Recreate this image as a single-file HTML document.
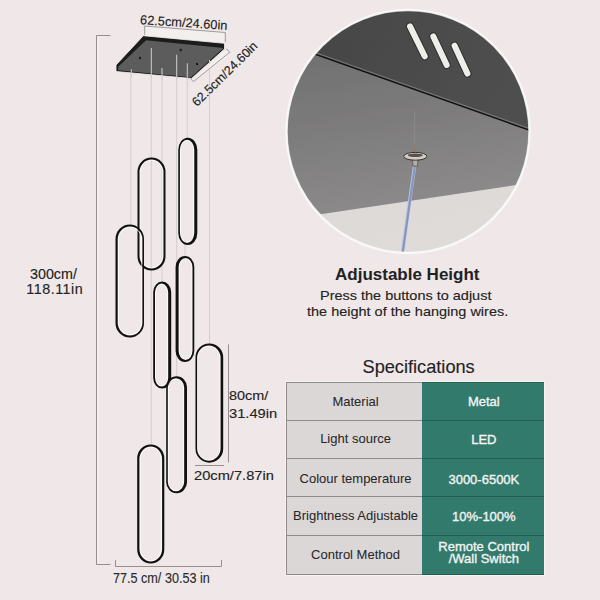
<!DOCTYPE html>
<html><head><meta charset="utf-8">
<style>
html,body{margin:0;padding:0;width:600px;height:600px;overflow:hidden;background:#efe7e8;}
body{position:relative;font-family:"Liberation Sans",sans-serif;color:#222;}
.t{position:absolute;white-space:nowrap;line-height:1;-webkit-text-stroke:0.12px currentColor;}
.cell{-webkit-text-stroke:0.25px currentColor;}
svg{position:absolute;left:0;top:0;}
.cell{position:absolute;display:flex;align-items:center;justify-content:center;text-align:center;font-size:13px;line-height:12px;}
</style></head><body>
<svg width="600" height="600" viewBox="0 0 600 600">
  <!-- left dimension line -->
  <path d="M97.8 37 V563" fill="none" stroke="#f8f5f5" stroke-width="1.2"/>
  <path d="M110.5 35.5 H96.5 V564.5 H110.5" fill="none" stroke="#978e8f" stroke-width="1"/>
  <!-- bottom dimension -->
  <path d="M115.5 560 V566.5 H221.5 V560" fill="none" stroke="#978e8f" stroke-width="1"/>
  <!-- 80cm dimension -->
  <path d="M228.5 344.5 V462.5" fill="none" stroke="#978e8f" stroke-width="1"/>
  <path d="M195 465.5 H224" fill="none" stroke="#978e8f" stroke-width="1"/>
  <!-- wires -->
  <g stroke="#d6cdce" stroke-width="1">
    <path d="M130.8 72 V225"/>
    <path d="M151.3 72 V445"/>
    <path d="M162 72 V282"/>
    <path d="M176.7 72 V377"/>
    <path d="M187.3 72 V139"/>
    <path d="M185 240 V257"/>
    <path d="M209.5 66 V344"/>
  </g>
  <!-- canopy -->
  <polygon points="145,26 225.5,32.5 225,43 143,35.5" fill="#f4efef"/>
  <polygon points="192,80.5 224.5,50 230,54.6 193.3,81.5" fill="#f4efef"/>
  <polygon points="143.3,35.7 224.5,43.3 224.5,49 191.5,78.5 116,71.5 116,65" fill="#1c1c1c" stroke="#f6f2f2" stroke-width="0.8"/>
  <polygon points="146,40.2 223.5,48 191,77.3 118,70.3 118.5,66.5" fill="#5c5c5c"/>
  <g stroke="#cfcfcf" stroke-width="1">
    <path d="M131.3 69.3 V78"/>
    <path d="M151.3 48 V79"/>
    <path d="M162 68 V80"/>
    <path d="M176.7 54.7 V80"/>
    <path d="M187.3 63.3 V80"/>
    <path d="M209.5 60 V64"/>
  </g>
  <circle cx="140" cy="58" r="1.2" fill="#1a1a1a"/>
  <circle cx="180.7" cy="50" r="1.2" fill="#1a1a1a"/>
  <circle cx="197" cy="64" r="1.2" fill="#1a1a1a"/>
  <path d="M144.7 34.8 L144.7 26 L225.3 32.5 L225.3 42" fill="none" stroke="#978e8f" stroke-width="0.9"/>
  <path d="M190.5 78.5 L193.3 81.7 L229.7 52.3 L226.5 48.8" fill="none" stroke="#978e8f" stroke-width="0.9"/>
  <!-- rings -->
  <path d="M140.10 172.10 A11.40 11.90 0 0 1 162.90 172.10 V256.00 A11.40 11.90 0 0 1 140.10 256.00 Z" fill="none" stroke="#ffffff" stroke-width="1" opacity="0.8"/>
  <path d="M137.50 171.60 A14.00 14.00 0 0 1 165.50 171.60 V256.50 A14.00 14.00 0 0 1 137.50 256.50 Z M139.50 172.00 A12.00 12.40 0 0 1 163.50 172.00 V256.10 A12.00 12.40 0 0 1 139.50 256.10 Z" fill="#111" fill-rule="evenodd"/>
  <path d="M180.50 150.20 A6.60 9.90 0 0 1 193.70 150.20 V232.50 A6.60 9.90 0 0 1 180.50 232.50 Z" fill="none" stroke="#ffffff" stroke-width="1" opacity="0.8"/>
  <path d="M178.30 149.70 A9.50 12.00 0 0 1 197.30 149.70 V233.00 A9.50 12.00 0 0 1 178.30 233.00 Z M179.90 150.10 A7.20 10.40 0 0 1 194.30 150.10 V232.60 A7.20 10.40 0 0 1 179.90 232.60 Z" fill="#111" fill-rule="evenodd"/>
  <path d="M118.30 239.40 A11.75 12.40 0 0 1 141.80 239.40 V322.50 A11.75 12.40 0 0 1 118.30 322.50 Z" fill="none" stroke="#ffffff" stroke-width="1" opacity="0.8"/>
  <path d="M115.50 238.90 A14.25 14.50 0 0 1 144.00 238.90 V323.00 A14.25 14.50 0 0 1 115.50 323.00 Z M117.70 239.30 A12.35 12.90 0 0 1 142.40 239.30 V322.60 A12.35 12.90 0 0 1 117.70 322.60 Z" fill="#111" fill-rule="evenodd"/>
  <path d="M155.60 292.60 A6.00 8.40 0 0 1 167.60 292.60 V377.50 A6.00 8.40 0 0 1 155.60 377.50 Z" fill="none" stroke="#ffffff" stroke-width="1" opacity="0.8"/>
  <path d="M153.20 292.10 A9.00 10.50 0 0 1 171.20 292.10 V378.00 A9.00 10.50 0 0 1 153.20 378.00 Z M155.00 292.50 A6.60 8.90 0 0 1 168.20 292.50 V377.60 A6.60 8.90 0 0 1 155.00 377.60 Z" fill="#111" fill-rule="evenodd"/>
  <path d="M179.20 267.50 A6.35 8.90 0 0 1 191.90 267.50 V350.50 A6.35 8.90 0 0 1 179.20 350.50 Z" fill="none" stroke="#ffffff" stroke-width="1" opacity="0.8"/>
  <path d="M175.60 267.00 A9.35 11.00 0 0 1 194.30 267.00 V351.00 A9.35 11.00 0 0 1 175.60 351.00 Z M178.60 267.40 A6.95 9.40 0 0 1 192.50 267.40 V350.60 A6.95 9.40 0 0 1 178.60 350.60 Z" fill="#111" fill-rule="evenodd"/>
  <path d="M197.70 358.00 A11.15 11.90 0 0 1 220.00 358.00 V448.20 A11.15 11.90 0 0 1 197.70 448.20 Z" fill="none" stroke="#ffffff" stroke-width="1" opacity="0.8"/>
  <path d="M195.50 357.50 A13.85 14.00 0 0 1 223.20 357.50 V448.70 A13.85 14.00 0 0 1 195.50 448.70 Z M197.10 357.90 A11.75 12.40 0 0 1 220.60 357.90 V448.30 A11.75 12.40 0 0 1 197.10 448.30 Z" fill="#111" fill-rule="evenodd"/>
  <path d="M168.40 387.70 A7.60 8.90 0 0 1 183.60 387.70 V481.70 A7.60 8.90 0 0 1 168.40 481.70 Z" fill="none" stroke="#ffffff" stroke-width="1" opacity="0.8"/>
  <path d="M166.20 387.20 A10.40 11.00 0 0 1 187.00 387.20 V482.20 A10.40 11.00 0 0 1 166.20 482.20 Z M167.80 387.60 A8.20 9.40 0 0 1 184.20 387.60 V481.80 A8.20 9.40 0 0 1 167.80 481.80 Z" fill="#111" fill-rule="evenodd"/>
  <path d="M140.30 459.00 A10.45 11.90 0 0 1 161.20 459.00 V549.00 A10.45 11.90 0 0 1 140.30 549.00 Z" fill="none" stroke="#ffffff" stroke-width="1" opacity="0.8"/>
  <path d="M137.20 458.50 A13.55 14.00 0 0 1 164.30 458.50 V549.50 A13.55 14.00 0 0 1 137.20 549.50 Z M139.40 458.90 A11.35 12.40 0 0 1 162.10 458.90 V549.10 A11.35 12.40 0 0 1 139.40 549.10 Z" fill="#111" fill-rule="evenodd"/>
</svg>

<div class="t" id="t300" style="left:30px;top:266.6px;font-size:14.3px;">300cm/</div>
<div class="t" id="t118" style="left:26.2px;top:281.7px;font-size:14.3px;letter-spacing:0.55px;">118.11in</div>
<div class="t" id="t80" style="left:229.3px;top:389.01px;font-size:13.1px;transform:scaleX(1.1);transform-origin:0 0;">80cm/</div>
<div class="t" id="t31" style="left:229.3px;top:407.01px;font-size:13.1px;transform:scaleX(1.12);transform-origin:0 0;">31.49in</div>
<div class="t" id="t20" style="left:193.8px;top:468.71px;font-size:13.1px;transform:scaleX(1.12);transform-origin:0 0;">20cm/7.87in</div>
<div class="t" id="t77" style="left:113px;top:570.7px;font-size:14.5px;transform:scaleX(0.87);transform-origin:0 0;color:#2a2a2a;">77.5 cm/ 30.53 in</div>
<div class="t" id="ttop" style="left:140.2px;top:16.9px;font-size:12.8px;transform:rotate(4deg);transform-origin:50% 50%;">62.5cm/24.60in</div>
<div class="t" id="tdiag" style="left:182.3px;top:68.2px;font-size:12.6px;transform:rotate(-44.5deg);transform-origin:50% 50%;">62.5cm/24.60in</div>

<!-- circle image -->
<svg width="600" height="600" viewBox="0 0 600 600">
  <defs>
    <clipPath id="cc"><circle cx="408" cy="131.5" r="121"/></clipPath>
    <linearGradient id="gTop" x1="0" y1="0" x2="1" y2="0.3">
      <stop offset="0" stop-color="#454545"/>
      <stop offset="1" stop-color="#4f4f4f"/>
    </linearGradient>
    <linearGradient id="gMid" gradientUnits="userSpaceOnUse" x1="300" y1="45" x2="330" y2="215">
      <stop offset="0" stop-color="#707070"/>
      <stop offset="0.5" stop-color="#7d7c7c"/>
      <stop offset="1" stop-color="#8b8989"/>
    </linearGradient>
    <linearGradient id="gBot" x1="0" y1="0" x2="0.3" y2="1">
      <stop offset="0" stop-color="#d6d3d1"/>
      <stop offset="1" stop-color="#dedbd9"/>
    </linearGradient>
    <linearGradient id="gWire" x1="0" y1="0" x2="1" y2="0">
      <stop offset="0" stop-color="#dfe6f5"/>
      <stop offset="0.5" stop-color="#7f92c2"/>
      <stop offset="1" stop-color="#5d6f9c"/>
    </linearGradient>
  </defs>
  <g clip-path="url(#cc)">
    <rect x="280" y="0" width="260" height="260" fill="url(#gBot)"/>
    <polygon points="280,38 540,128 540,181.4 280,220.3" fill="url(#gMid)"/>
    <polygon points="280,0 540,0 540,133.5 280,41.2" fill="url(#gTop)"/>
    <path d="M280 41.7 L540 134" stroke="#121212" stroke-width="1.4"/>
    <path d="M280 40 L540 132.3" stroke="#8f8f8f" stroke-width="1" opacity="0.7"/>
    <g stroke="#2e2e2e" stroke-width="8" stroke-linecap="round">
      <path d="M410 26.4 L424.7 56.3"/>
      <path d="M433.3 36.4 L446.7 65"/>
      <path d="M454.6 45.7 L467.4 73.6"/>
    </g>
    <g stroke="#efede9" stroke-width="6" stroke-linecap="round">
      <path d="M410 26.4 L424.7 56.3"/>
      <path d="M433.3 36.4 L446.7 65"/>
      <path d="M454.6 45.7 L467.4 73.6"/>
    </g>
    <path d="M414.7 112 L414.7 150" stroke="#9a9a9a" stroke-width="0.8" opacity="0.5"/>
    <path d="M414.7 144 L414.7 153" stroke="#8c7f74" stroke-width="2.2"/>
    <path d="M415 163 L402.5 252" stroke="#b9c1da" stroke-width="3.4"/>
    <path d="M415.3 163 L402.8 252" stroke="#8595c3" stroke-width="2"/>
    <path d="M412.5 159 L413 166 L417.5 166 L418 159 Z" fill="#b8b0a8" stroke="#3e3935" stroke-width="0.6"/>
    <ellipse cx="415.3" cy="156.3" rx="11.6" ry="3.9" fill="#d3ccc4" stroke="#3a3530" stroke-width="1"/>
    <ellipse cx="415.3" cy="155.2" rx="7.5" ry="1.8" fill="#5a534d"/>
  </g>
      <circle cx="408" cy="131.5" r="121.5" fill="none" stroke="#fcfbfb" stroke-width="2.4" opacity="0.85"/>
</svg>

<div class="t" id="adj" style="left:335px;top:265.5px;font-size:17px;font-weight:bold;-webkit-text-stroke:0;">Adjustable Height</div>
<div class="t" id="p1" style="left:320.3px;top:288.89px;font-size:13.6px;transform:scaleX(1.065);transform-origin:0 0;">Press the buttons to adjust</div>
<div class="t" id="p2" style="left:307.3px;top:305.49px;font-size:13.6px;transform:scaleX(1.065);transform-origin:0 0;">the height of the hanging wires.</div>
<div class="t" id="spec" style="left:362.5px;top:358.3px;font-size:18.2px;">Specifications</div>

<!-- table -->
<div style="position:absolute;left:284.8px;top:380.5px;width:260px;height:195px;background:#f6f3f3;"></div>
<div style="position:absolute;left:285.8px;top:381.5px;width:136.2px;height:193px;background:#dbd7d7;"></div>
<div style="position:absolute;left:421.5px;top:381.5px;width:122.5px;height:193px;background:#327b6c;"></div>
<div style="position:absolute;left:285.8px;top:381.5px;width:137px;height:1px;background:#8e8b8b;"></div>
<div style="position:absolute;left:421.5px;top:381.5px;width:122.5px;height:1px;background:#215f50;"></div>
<div style="position:absolute;left:285.8px;top:419.8px;width:137px;height:1px;background:#8e8b8b;"></div>
<div style="position:absolute;left:421.5px;top:419.8px;width:122.5px;height:1px;background:#215f50;"></div>
<div style="position:absolute;left:285.8px;top:458.0px;width:137px;height:1px;background:#8e8b8b;"></div>
<div style="position:absolute;left:421.5px;top:458.0px;width:122.5px;height:1px;background:#215f50;"></div>
<div style="position:absolute;left:285.8px;top:496.2px;width:137px;height:1px;background:#8e8b8b;"></div>
<div style="position:absolute;left:421.5px;top:496.2px;width:122.5px;height:1px;background:#215f50;"></div>
<div style="position:absolute;left:285.8px;top:534.5px;width:137px;height:1px;background:#8e8b8b;"></div>
<div style="position:absolute;left:421.5px;top:534.5px;width:122.5px;height:1px;background:#215f50;"></div>
<div style="position:absolute;left:285.8px;top:573.5px;width:137px;height:1px;background:#8e8b8b;"></div>
<div style="position:absolute;left:421.5px;top:573.5px;width:122.5px;height:1px;background:#215f50;"></div>
<div style="position:absolute;left:285.8px;top:381.5px;width:1.1px;height:193px;background:#8e8b8b;"></div>
<div class="cell" style="-webkit-text-stroke:0.05px currentColor;left:287.8px;top:382px;width:135.5px;height:38.30000000000001px;color:#282828;"><span class="t2" id="L0" style="position:relative;top:0.5px;">Material</span></div>
<div class="cell" style="-webkit-text-stroke:0.35px currentColor;left:422.6px;top:382px;width:122.5px;height:38.30000000000001px;color:#f4f4f4;"><span class="t2" id="R0" style="position:relative;top:0.5px;">Metal</span></div>
<div class="cell" style="-webkit-text-stroke:0.05px currentColor;left:287.8px;top:420.3px;width:135.5px;height:38.19999999999999px;color:#282828;"><span class="t2" id="L1" style="position:relative;top:-0.5px;">Light source</span></div>
<div class="cell" style="-webkit-text-stroke:0.35px currentColor;left:422.6px;top:420.3px;width:122.5px;height:38.19999999999999px;color:#f4f4f4;"><span class="t2" id="R1" style="position:relative;top:1px;">LED</span></div>
<div class="cell" style="-webkit-text-stroke:0.05px currentColor;left:287.8px;top:458.5px;width:135.5px;height:38.19999999999999px;color:#282828;"><span class="t2" id="L2" style="position:relative;top:1px;">Colour temperature</span></div>
<div class="cell" style="-webkit-text-stroke:0.35px currentColor;left:422.6px;top:458.5px;width:122.5px;height:38.19999999999999px;color:#f4f4f4;"><span class="t2" id="R2" style="position:relative;top:2px;">3000-6500K</span></div>
<div class="cell" style="-webkit-text-stroke:0.05px currentColor;left:287.8px;top:496.7px;width:135.5px;height:38.30000000000001px;color:#282828;"><span class="t2" id="L3" style="position:relative;top:0px;">Brightness Adjustable</span></div>
<div class="cell" style="-webkit-text-stroke:0.35px currentColor;left:422.6px;top:496.7px;width:122.5px;height:38.30000000000001px;color:#f4f4f4;"><span class="t2" id="R3" style="position:relative;top:1.3px;">10%-100%</span></div>
<div class="cell" style="-webkit-text-stroke:0.05px currentColor;left:287.8px;top:535px;width:135.5px;height:39px;color:#282828;"><span class="t2" id="L4" style="position:relative;top:0px;">Control Method</span></div>
<div class="cell" style="-webkit-text-stroke:0.35px currentColor;left:422.6px;top:535px;width:122.5px;height:39px;color:#f4f4f4;"><span class="t2" id="R4" style="position:relative;top:-1.4px;">Remote Control<br>/Wall Switch</span></div>
</body></html>
